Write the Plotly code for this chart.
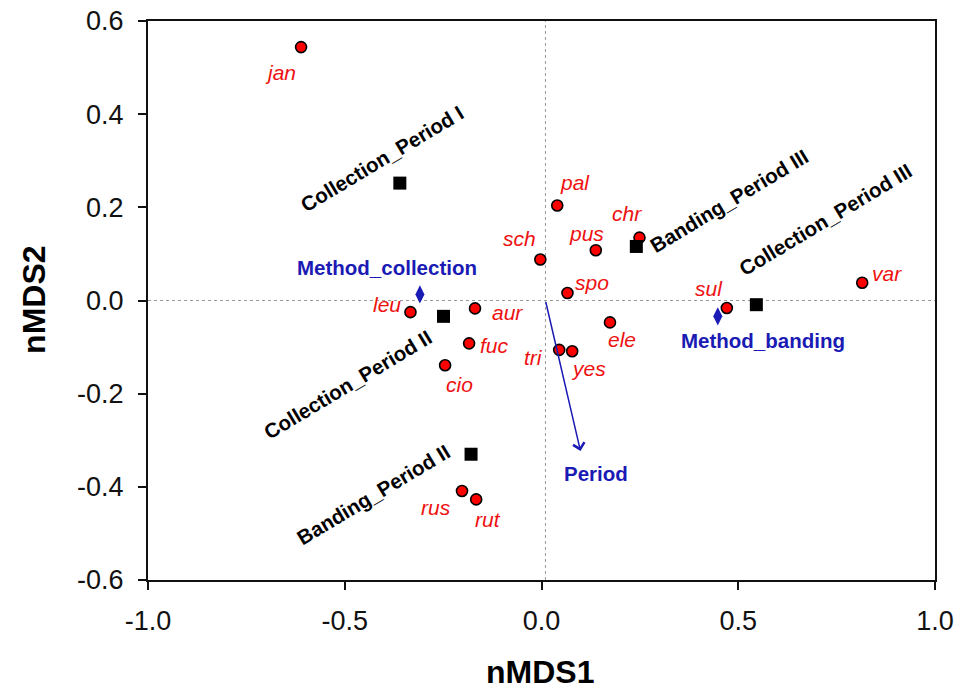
import plotly.graph_objects as go

# ---------------- data ----------------
species = ["jan", "pal", "sch", "pus", "chr", "spo", "ele", "yes", "tri",
           "sul", "var", "leu", "aur", "fuc", "cio", "rus", "rut"]
species_x = [-0.611, 0.040, -0.003, 0.138, 0.249, 0.066, 0.174, 0.078, 0.045,
             0.471, 0.815, -0.333, -0.169, -0.184, -0.245, -0.202, -0.166]
species_y = [0.544, 0.204, 0.088, 0.108, 0.135, 0.016, -0.047, -0.109, -0.106,
             -0.016, 0.038, -0.025, -0.017, -0.092, -0.139, -0.409, -0.427]

groups = ["Collection_Period I", "Collection_Period II", "Collection_Period III",
          "Banding_Period II", "Banding_Period III"]
group_x = [-0.360, -0.249, 0.546, -0.179, 0.241]
group_y = [0.252, -0.034, -0.009, -0.330, 0.116]

methods = ["Method_collection", "Method_banding"]
method_x = [-0.309, 0.448]
method_y = [0.013, -0.034]

vector_name = "Period"
vector_x = [0.01, 0.099]
vector_y = [0.0, -0.323]

x_ticks = [-1.0, -0.5, 0.0, 0.5, 1.0]
x_tick_labels = ["-1.0", "-0.5", "0.0", "0.5", "1.0"]
y_ticks = [-0.6, -0.4, -0.2, 0.0, 0.2, 0.4, 0.6]
y_tick_labels = ["-0.6", "-0.4", "-0.2", "0.0", "0.2", "0.4", "0.6"]

# ---------------- label offsets (pixels) ----------------
species_dx = [-21, 18, -21, -9, -12, 25, 12, 16, -26, -18, 25, -23, 32, 25, 14, -26, 12]
species_dy = [-25, 23, 21, 17, 24, 11, -17, -17, -8, 19, 9, 8, -4, -2, -19, -16, -20]
group_dx = [-18, -96, 69, -98, 93]
group_dy = [25, -68, 85, -40, 46]
method_dx = [-33, 45]
method_dy = [27, -24]
vector_dx, vector_dy = 16, -23

FONT = "Arial, 'Liberation Sans', sans-serif"
RED = "#ee1111"
BLUE = "#1a1ab4"

fig = go.Figure()

fig.add_trace(go.Scatter(
    x=species_x, y=species_y, mode="markers", name="species",
    marker=dict(symbol="circle", size=11, color="#ff0000",
                line=dict(color="black", width=1.6)),
    hovertext=species, showlegend=False))

fig.add_trace(go.Scatter(
    x=group_x, y=group_y, mode="markers", name="groups",
    marker=dict(symbol="square", size=13, color="black"),
    hovertext=groups, showlegend=False))

fig.add_trace(go.Scatter(
    x=method_x, y=method_y, mode="markers", name="methods",
    marker=dict(symbol="diamond-tall", size=13, color=BLUE),
    hovertext=methods, showlegend=False))

annotations = []
for name, x, y, dx, dy in zip(species, species_x, species_y, species_dx, species_dy):
    annotations.append(dict(x=x, y=y, xref="x", yref="y", text=f"<i>{name}</i>",
                            showarrow=False, xshift=dx, yshift=dy,
                            font=dict(family=FONT, size=21, color=RED)))
for name, x, y, dx, dy in zip(groups, group_x, group_y, group_dx, group_dy):
    annotations.append(dict(x=x, y=y, xref="x", yref="y", text=f"<b>{name}</b>",
                            showarrow=False, xshift=dx, yshift=dy, textangle=-31,
                            font=dict(family=FONT, size=20.5, color="black")))
for name, x, y, dx, dy in zip(methods, method_x, method_y, method_dx, method_dy):
    annotations.append(dict(x=x, y=y, xref="x", yref="y", text=f"<b>{name}</b>",
                            showarrow=False, xshift=dx, yshift=dy,
                            font=dict(family=FONT, size=20.5, color=BLUE)))
# vector arrow
annotations.append(dict(x=vector_x[1], y=vector_y[1], ax=vector_x[0], ay=vector_y[0],
                        xref="x", yref="y", axref="x", ayref="y", text="",
                        showarrow=True, arrowhead=4, arrowsize=1.5, arrowwidth=1.5,
                        arrowcolor=BLUE, standoff=0, startstandoff=0))
annotations.append(dict(x=vector_x[1], y=vector_y[1], xref="x", yref="y",
                        text=f"<b>{vector_name}</b>", showarrow=False,
                        xshift=vector_dx, yshift=vector_dy,
                        font=dict(family=FONT, size=20.5, color=BLUE)))
# axis titles
annotations.append(dict(x=0.498, y=-0.1646, xref="paper", yref="paper", text="<b>nMDS1</b>",
                        showarrow=False, xanchor="center", yanchor="middle",
                        font=dict(family=FONT, size=32, color="black")))
annotations.append(dict(x=-0.1449, y=0.501, xref="paper", yref="paper", text="<b>nMDS2</b>",
                        showarrow=False, xanchor="center", yanchor="middle", textangle=-90,
                        font=dict(family=FONT, size=32, color="black")))

shapes = [
    dict(type="line", xref="x", yref="paper", x0=vector_x[0], x1=vector_x[0], y0=0, y1=1,
         line=dict(color="#999999", width=1, dash="dot"), layer="below"),
    dict(type="line", xref="paper", yref="y", x0=0, x1=1, y0=0, y1=0,
         line=dict(color="#999999", width=1, dash="dot"), layer="below"),
]

fig.update_layout(
    width=970, height=692,
    margin=dict(l=148, r=35, t=21, b=112, autoexpand=False),
    paper_bgcolor="white", plot_bgcolor="white",
    annotations=annotations, shapes=shapes,
    font=dict(family=FONT, color="#111111"),
    xaxis=dict(range=[-1.0, 1.0], tickvals=x_ticks, ticktext=x_tick_labels,
               automargin=False,
               showgrid=False, zeroline=False, showline=True, mirror=True,
               linecolor="#111111", linewidth=2, ticks="outside", ticklen=8,
               tickwidth=1.5, tickcolor="#111111", ticklabelstandoff=8,
               tickfont=dict(family=FONT, size=27, color="#111111")),
    yaxis=dict(range=[-0.6, 0.6], tickvals=y_ticks, ticktext=y_tick_labels,
               automargin=False,
               showgrid=False, zeroline=False, showline=True, mirror=True,
               linecolor="#111111", linewidth=2, ticks="outside", ticklen=8,
               tickwidth=1.5, tickcolor="#111111", ticklabelstandoff=9,
               tickfont=dict(family=FONT, size=27, color="#111111")),
)

fig.write_html("out.html", config={"displayModeBar": False},
               post_script="document.body.style.margin='0';document.body.style.overflow='hidden';")
